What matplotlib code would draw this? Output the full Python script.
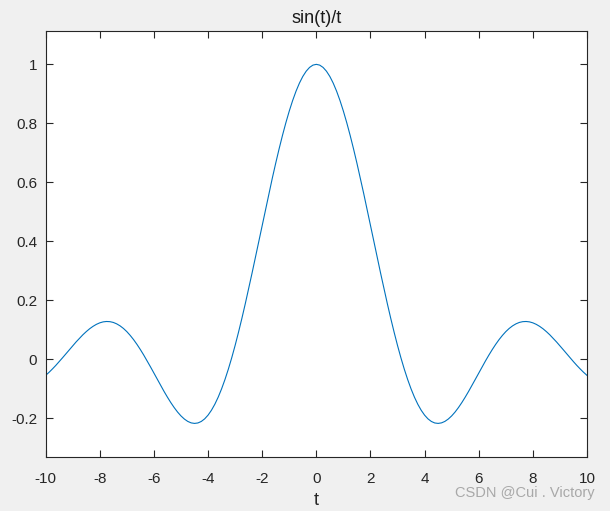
import numpy as np
import matplotlib.pyplot as plt

plt.rcParams['font.family'] = ['Liberation Sans', 'DejaVu Sans']

# values, t from -10 to 10 in steps of 0.125
t = np.arange(-80, 81) * 0.125
y = [-0.0544, -0.0441, -0.0327, -0.0207, -0.0079, 0.0053, 0.0188, 0.0324,
     0.0458, 0.0589, 0.0713, 0.0832, 0.0939, 0.1036, 0.1118, 0.1186,
     0.1237, 0.1270, 0.1283, 0.1277, 0.1251, 0.1203, 0.1135, 0.1047,
     0.0939, 0.0811, 0.0667, 0.0506, 0.0331, 0.0144, -0.0053, -0.0257,
     -0.0466, -0.0676, -0.0884, -0.1088, -0.1283, -0.1467, -0.1636, -0.1788,
     -0.1918, -0.2024, -0.2104, -0.2154, -0.2172, -0.2157, -0.2106, -0.2018,
     -0.1892, -0.1727, -0.1524, -0.1282, -0.1002, -0.0685, -0.0333, 0.0053,
     0.0470, 0.0917, 0.1388, 0.1882, 0.2394, 0.2920, 0.3458, 0.4004,
     0.4546, 0.5088, 0.5623, 0.6145, 0.6650, 0.7134, 0.7592, 0.8020,
     0.8415, 0.8772, 0.9089, 0.9362, 0.9589, 0.9767, 0.9896, 0.9974,
     1.0000,
     0.9974, 0.9896, 0.9767, 0.9589, 0.9362, 0.9089, 0.8772, 0.8415,
     0.8020, 0.7592, 0.7134, 0.6650, 0.6145, 0.5623, 0.5088, 0.4546,
     0.4004, 0.3458, 0.2920, 0.2394, 0.1882, 0.1388, 0.0917, 0.0470,
     0.0053, -0.0333, -0.0685, -0.1002, -0.1282, -0.1524, -0.1727, -0.1892,
     -0.2018, -0.2106, -0.2157, -0.2172, -0.2154, -0.2104, -0.2024, -0.1918,
     -0.1788, -0.1636, -0.1467, -0.1283, -0.1088, -0.0884, -0.0676, -0.0466,
     -0.0257, -0.0053, 0.0144, 0.0331, 0.0506, 0.0667, 0.0811, 0.0939,
     0.1047, 0.1135, 0.1203, 0.1251, 0.1277, 0.1283, 0.1270, 0.1237,
     0.1186, 0.1118, 0.1036, 0.0939, 0.0832, 0.0713, 0.0589, 0.0458,
     0.0324, 0.0188, 0.0053, -0.0079, -0.0207, -0.0327, -0.0441, -0.0544]

xticks = list(range(-10, 11, 2))
yticks = [-0.2, 0, 0.2, 0.4, 0.6, 0.8, 1]
yticklabels = ['-0.2', '0', '0.2', '0.4', '0.6', '0.8', '1']

fig = plt.figure(figsize=(6.10, 5.11), dpi=100, facecolor='#f0f0f0')
# axes box: x 45.6..587 px, y 31..456.7 px
ax = fig.add_axes([0.0748, 0.1063, 0.8875, 0.8330])
ax.plot(t, y, color='#0072bd', linewidth=0.8)

ax.set_xlim(-10, 10)
ax.set_ylim(-0.330, 1.113)
ax.set_xticks(xticks)
ax.set_xticklabels([str(v) for v in xticks])
ax.set_yticks(yticks)
ax.set_yticklabels(yticklabels)
ax.tick_params(direction='in', length=5, width=0.8, colors='#262626',
               labelsize=11, top=True, right=True, pad=6)
ax.tick_params(axis='x', pad=11)
for s in ax.spines.values():
    s.set_color('#262626')
    s.set_linewidth(0.8)

ax.set_title('sin(t)/t', fontsize=13, color='#1a1a1a', pad=6)
ax.set_xlabel('t', fontsize=13, color='#262626', labelpad=4)

fig.text(0.974, 0.035, 'CSDN @Cui . Victory', ha='right', va='center',
         fontsize=10.5, color='#a8a8a8')

fig.savefig('out.png', dpi=100, facecolor=fig.get_facecolor())
